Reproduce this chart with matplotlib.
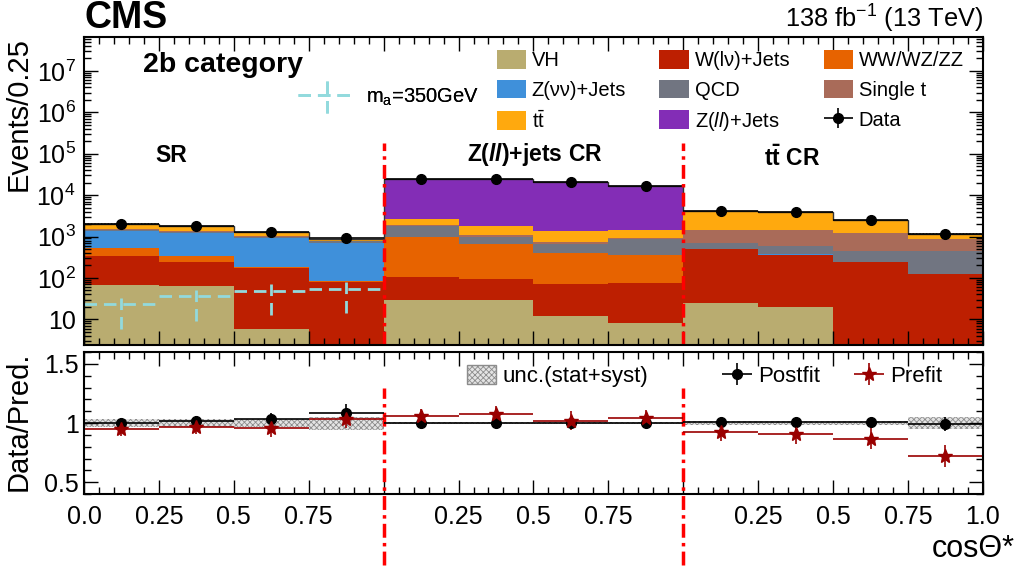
import numpy as np
import matplotlib
matplotlib.use("Agg")
import matplotlib.pyplot as plt
from matplotlib.patches import Patch
from matplotlib.legend_handler import HandlerErrorbar
from matplotlib.transforms import blended_transform_factory
from matplotlib.ticker import FixedLocator, MultipleLocator, LogLocator, FuncFormatter, NullFormatter

plt.rcParams['font.family'] = ['Liberation Sans', 'DejaVu Sans']
plt.rcParams['mathtext.fontset'] = 'custom'
plt.rcParams['mathtext.rm'] = 'Liberation Sans'
plt.rcParams['mathtext.it'] = 'Liberation Sans:italic'
plt.rcParams['mathtext.bf'] = 'Liberation Sans:bold'
plt.rcParams['mathtext.bfit'] = 'Liberation Sans:bold:italic'
plt.rcParams['hatch.linewidth'] = 0.6

# 12 bins: SR | Z(ll)+jets CR | ttbar CR, 4 bins of cos(theta*) each
edges = np.arange(0, 3.0001, 0.25)
centers = edges[:-1] + 0.125
tick_pos = np.arange(0, 3.0001, 0.25)
tick_labels = ["0.0", "0.25", "0.5", "0.75", "", "0.25", "0.5", "0.75", "", "0.25", "0.5", "0.75", "1.0"]

# background yields (stacked from bottom)
vh    = [67, 65, 5.7, 1, 30, 30, 12.2, 8.3, 25, 20, 1, 1]
wlnu  = [277, 181, 165, 80, 77, 62.5, 60, 67, 466, 337, 237, 121]
diboson = [175, 92, 9, 4, 865, 578, 334, 289, 9, 8, 5, 4]
znunu = [841, 898, 726, 623, 3, 2, 2, 2, 5, 5, 3, 2]
qcd   = [60, 44, 84, 52, 820, 318, 239, 505, 181, 220, 201, 326]
singlet = [120, 50, 50, 30, 55, 90, 89, 44, 749, 845, 748, 401]
ttbar = [465, 430, 266, 95, 800, 715, 624, 548, 2695, 2400, 1311, 275]
zll   = [5, 5, 4, 3, 21850, 22705, 19340, 15437, 5, 5, 4, 3]

data = np.array([2000, 1780, 1290, 915, 24500, 24500, 20700, 16900, 4130, 3840, 2480, 1130])

# signal m_a = 350 GeV (SR only)
signal = [23, 36.5, 48, 55]
signal_lo = [17, 27.5, 35.3, 41]
signal_hi = [9.5, 14.5, 23, 26]

# ratio panel
postfit = [1.0, 1.02, 1.034, 1.084, 1.0, 1.0, 1.0, 1.0, 1.005, 1.005, 1.005, 0.994]
postfit_err = [0.04, 0.04, 0.05, 0.08, 0.012, 0.012, 0.015, 0.015, 0.02, 0.025, 0.035, 0.06]
prefit = [0.949, 0.966, 0.958, 1.034, 1.061, 1.078, 1.019, 1.042, 0.924, 0.904, 0.868, 0.722]
prefit_err = [0.06, 0.06, 0.08, 0.08, 0.06, 0.07, 0.08, 0.07, 0.08, 0.08, 0.09, 0.09]
unc = np.array([0.03, 0.03, 0.035, 0.055, 0.01, 0.01, 0.01, 0.012, 0.015, 0.015, 0.02, 0.05])

procs = [
    ("VH", vh, "#b9ac70"),
    ("W(lν)+Jets", wlnu, "#bd1f01"),
    ("WW/WZ/ZZ", diboson, "#e76300"),
    ("Z(νν)+Jets", znunu, "#3f90da"),
    ("QCD", qcd, "#717581"),
    ("Single t", singlet, "#a96b59"),
    (r"t$\bar{\mathrm{t}}$", ttbar, "#ffa90e"),
    (r"Z($\mathit{ll}$)+Jets", zll, "#832db6"),
]

fig = plt.figure(figsize=(10.19, 5.70), dpi=100)
ax = fig.add_axes([0.0824, 0.3947, 0.8822, 0.5404])
ax2 = fig.add_axes([0.0824, 0.1333, 0.8822, 0.2491])

bottom = np.full(12, 1e-2)
patches = {}
for name, vals, col in procs:
    top = bottom + np.array(vals)
    ax.stairs(top, edges, baseline=bottom, fill=True, color=col, lw=0)
    patches[name] = Patch(facecolor=col, edgecolor='none')
    bottom = top
total = bottom

ax.stairs(total * (1 + unc), edges, baseline=total * (1 - unc), fill=True,
          facecolor='none', edgecolor='#555555', hatch='.....', lw=0)
ax.stairs(total, edges, color='#333333', lw=1)

dat = ax.errorbar(centers, data, xerr=0.125, yerr=np.sqrt(data), fmt='o', color='k',
                  ms=7, lw=1.2, capsize=0)

sig = ax.errorbar(centers[:4], signal, xerr=0.125, yerr=[signal_lo, signal_hi], fmt='none',
                  ecolor='#92dadd', elinewidth=2)
for c in sig[2]:
    c.set_linestyle((0, (4.5, 2.5)))

for xv in [1, 2]:
    ax.axvline(xv, ymin=0, ymax=0.656, color='red', lw=2.5, ls=(0, (4, 1.5, 1, 1.5)))
    ax2.axvline(xv, ymin=-0.5, ymax=0.746, color='red', lw=2.5, ls=(0, (4, 1.5, 1, 1.5)),
                clip_on=False)

ax.set_yscale('log')
ax.set_ylim(2.4, 6.6e7)
ax.set_xlim(0, 3)
ax.yaxis.set_major_locator(FixedLocator([10.0 ** k for k in range(1, 8)]))
ax.yaxis.set_major_formatter(FuncFormatter(
    lambda v, p: "10" if abs(v - 10) < 1e-6 else r"$\mathregular{10^{%d}}$" % round(np.log10(v))))
ax.yaxis.set_minor_locator(LogLocator(base=10, subs=np.arange(2, 10), numticks=20))
ax.yaxis.set_minor_formatter(NullFormatter())

for a in (ax, ax2):
    a.set_xlim(0, 3)
    a.xaxis.set_major_locator(FixedLocator(tick_pos))
    a.xaxis.set_minor_locator(MultipleLocator(0.05))
    a.tick_params(which='both', direction='in', top=True, right=True, labelsize=18)
    a.tick_params(which='major', length=10, width=1)
    a.tick_params(which='minor', length=5, width=1)
    for s in a.spines.values():
        s.set_linewidth(1.5)
ax.set_xticklabels([])
ax2.set_xticklabels(tick_labels)
ax2.tick_params(axis='x', pad=8)
ax.tick_params(axis='y', pad=6)

ax2.set_ylim(0.4, 1.6)
ax2.yaxis.set_major_locator(FixedLocator([0.5, 1.0, 1.5]))
ax2.set_yticklabels(["0.5", "1", "1.5"])
ax2.yaxis.set_minor_locator(MultipleLocator(0.1))

ax2.stairs(1 + unc, edges, baseline=1 - unc, fill=True, facecolor='#e4e4e4',
           edgecolor='#8c8c8c', hatch='xxxxxx', lw=0)
post = ax2.errorbar(centers, postfit, xerr=0.125, yerr=postfit_err, fmt='o', color='k',
                    ms=7, lw=1.2, capsize=0)
pre = ax2.errorbar(centers, prefit, xerr=0.125, yerr=prefit_err, fmt='*', color='#990000',
                   ms=10, lw=1.2, capsize=0)

ax.set_ylabel("Events/0.25", fontsize=21, loc='top')
ax.yaxis.set_label_coords(-0.057, 1.0)
ax2.set_ylabel("Data/Pred.", fontsize=21, loc='top')
ax2.yaxis.set_label_coords(-0.057, 1.0)
ax2.set_xlabel("cosΘ*", fontsize=22, loc='right')
ax2.xaxis.set_label_coords(1.0356, -0.28)

# legends
order = ["VH", "Z(νν)+Jets", r"t$\bar{\mathrm{t}}$",
         "W(lν)+Jets", "QCD", r"Z($\mathit{ll}$)+Jets",
         "WW/WZ/ZZ", "Single t"]
hs = [patches[n] for n in order] + [dat]
ls = order + ["Data"]
leg = ax.legend(hs, ls, ncol=3, loc='upper left', bbox_to_anchor=(0.459, 0.958),
                frameon=False, fontsize=14.5, borderpad=0, borderaxespad=0,
                handlelength=1.45, handleheight=1.05, handletextpad=0.3,
                columnspacing=1.65, labelspacing=0.48,
                handler_map={dat: HandlerErrorbar(xerr_size=0.72, yerr_size=0.5)})
ax.add_artist(leg)
leg_s = ax.legend([sig], [r"m$_{\mathrm{a}}$=350GeV"], loc='center left',
                  bbox_to_anchor=(0.238, 0.805), frameon=False, fontsize=14.5,
                  borderpad=0, borderaxespad=0, handlelength=2.85, handletextpad=0.55,
                  handler_map={sig: HandlerErrorbar(xerr_size=1.42, yerr_size=0.9)})
ax.add_artist(leg_s)

unc_patch = Patch(facecolor='#e4e4e4', edgecolor='#8c8c8c', hatch='xxxxxx', lw=1)
leg_u = ax2.legend([unc_patch], ["unc.(stat+syst)"], loc='center left',
                   bbox_to_anchor=(0.426, 0.831), frameon=False, fontsize=16,
                   borderpad=0, borderaxespad=0, handlelength=1.3, handleheight=0.95,
                   handletextpad=0.3)
ax2.add_artist(leg_u)
ax2.legend([post, pre], ["Postfit", "Prefit"], ncol=2, loc='center left',
           bbox_to_anchor=(0.71, 0.831), frameon=False, fontsize=16, borderpad=0,
           borderaxespad=0, handlelength=1.35, handletextpad=0.25, columnspacing=1.55,
           handler_map={post: HandlerErrorbar(xerr_size=0.68, yerr_size=0.5),
                        pre: HandlerErrorbar(xerr_size=0.68, yerr_size=0.5)})

# labels
tr = blended_transform_factory(ax.transData, ax.transAxes)
ax.text(0.29, 0.614, "SR", transform=tr, ha='center', va='center', fontsize=16.5, fontweight='bold')
ax.text(1.505, 0.617, r"Z($\mathbfit{ll}$)+jets CR", transform=tr, ha='center', va='center',
        fontsize=16.5, fontweight='bold')
ax.text(2.362, 0.607, r"$\mathbf{t\bar{t}}$ CR", transform=tr, ha='center', va='center',
        fontsize=16.5, fontweight='bold')
ax.text(0.0656, 0.909, "2b category", transform=ax.transAxes, ha='left', va='center',
        fontsize=20.5, fontweight='bold')

fig.text(84 / 1019, 1 - 18 / 570, "CMS", ha='left', va='center', fontsize=27, fontweight='bold')
fig.text(983 / 1019, 1 - 19 / 570, r"138 fb$^{-1}$ (13 TeV)", ha='right', va='center', fontsize=18.3)

fig.savefig("out.png", dpi=100)
